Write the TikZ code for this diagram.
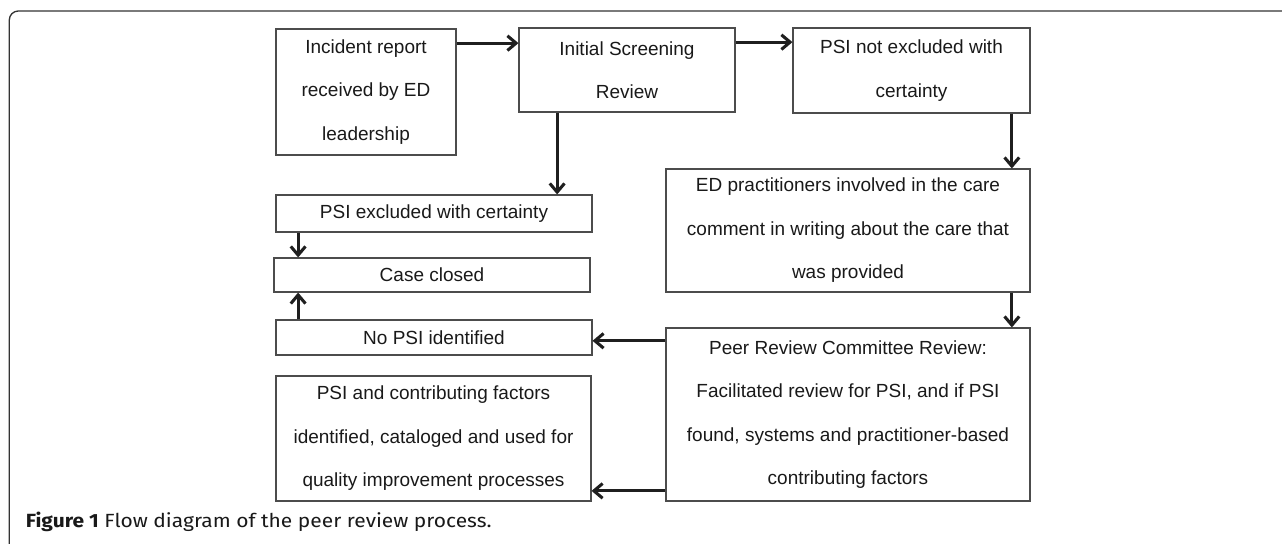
\documentclass[tikz,border=0pt]{standalone}
\usepackage{fontspec}
\setmainfont{Liberation Sans}
\newfontfamily\capfont[FakeStretch=1.1]{Fira Sans}
\usetikzlibrary{arrows.meta}
\definecolor{boxgray}{gray}{0.3}
\definecolor{framegray}{gray}{0.2}
\tikzset{
	box/.style={draw=boxgray, line width=0.8pt, inner sep=0pt, align=center, text=black!90, font=\fontsize{14.25}{32.6}\selectfont},
	arr/.style={line width=2.3pt, draw=black!88, -{Straight Barb[length=6.5pt, width=11pt, line width=2.3pt]}},
	frame/.style={draw=framegray, line width=1pt, rounded corners=6.75pt}
}
\begin{document}
\begin{tikzpicture}[x=0.75pt, y=-0.75pt]
			%%%%% START %%%%%
			\useasboundingbox (0,0) rectangle (1282,543);
			
			\draw[frame] (9.3,560) -- (9.3,11) -- (1300,11);
			
			\node[box, minimum width=135pt, minimum height=94.5pt] (inc) at (366,92) {Incident report\\received by ED\\leadership};
			\node[box, minimum width=162pt, minimum height=63pt] (scr) at (627,70) {Initial Screening\\Review};
			\node[box, minimum width=177.75pt, minimum height=63.75pt] (notx) at (911.5,70.5) {PSI not excluded with\\certainty};
			
			\node[box, minimum width=237pt, minimum height=27.75pt] (excl) at (434,213.5) {PSI excluded with certainty};
			\node[box, minimum width=237pt, minimum height=25.5pt] (closed) at (432,275) {Case closed};
			\node[box, minimum width=237pt, minimum height=26.25pt] (nopsi) at (434,337.5) {No PSI identified};
			\node[box, minimum width=236.25pt, minimum height=93.75pt] (contr) at (433.5,438.5) {PSI and contributing factors\\identified, cataloged and used for\\quality improvement processes};
			
			\node[box, minimum width=273pt, minimum height=92.25pt] (prac) at (848,230.5) {ED practitioners involved in the care\\comment in writing about the care that\\was provided};
			\node[box, minimum width=273pt, minimum height=129.75pt] (peer) at (848,414.5) {Peer Review Committee Review:\\Facilitated review for PSI, and if PSI\\found, systems and practitioner-based\\contributing factors};
			
			\draw[arr] ([yshift=-11pt]inc.north east) -- ([yshift=-11pt]inc.north east -| scr.west);
			\draw[arr] ([yshift=-11pt]scr.north east) -- ([yshift=-11pt]scr.north east -| notx.west);
			\draw[arr] ([xshift=29pt]scr.south west) -- ([xshift=29pt]scr.south west |- excl.north);
			\draw[arr] ([xshift=17pt]excl.south west) -- ([xshift=17pt]excl.south west |- closed.north);
			\draw[arr] ([xshift=17pt]nopsi.north west) -- ([xshift=17pt]nopsi.north west |- closed.south);
			\draw[arr] ([xshift=-14pt]notx.south east) -- ([xshift=-14pt]notx.south east |- prac.north);
			\draw[arr] ([xshift=-14pt]prac.south east) -- ([xshift=-14pt]prac.south east |- peer.north);
			\draw[arr] ([yshift=-10pt]peer.north west) -- ([yshift=-10pt]peer.north west -| nopsi.east);
			\draw[arr] ([yshift=8pt]peer.south west) -- ([yshift=8pt]peer.south west -| contr.east);
			
			\node[anchor=base west, inner sep=0pt, text=black!90, font=\capfont\fontsize{14.3}{16}\selectfont] (cap) at (25.7,527) {\textbf{Figure 1} Flow diagram of the peer review process.};
			
			%%%%% END %%%%%
\end{tikzpicture}
\end{document}
